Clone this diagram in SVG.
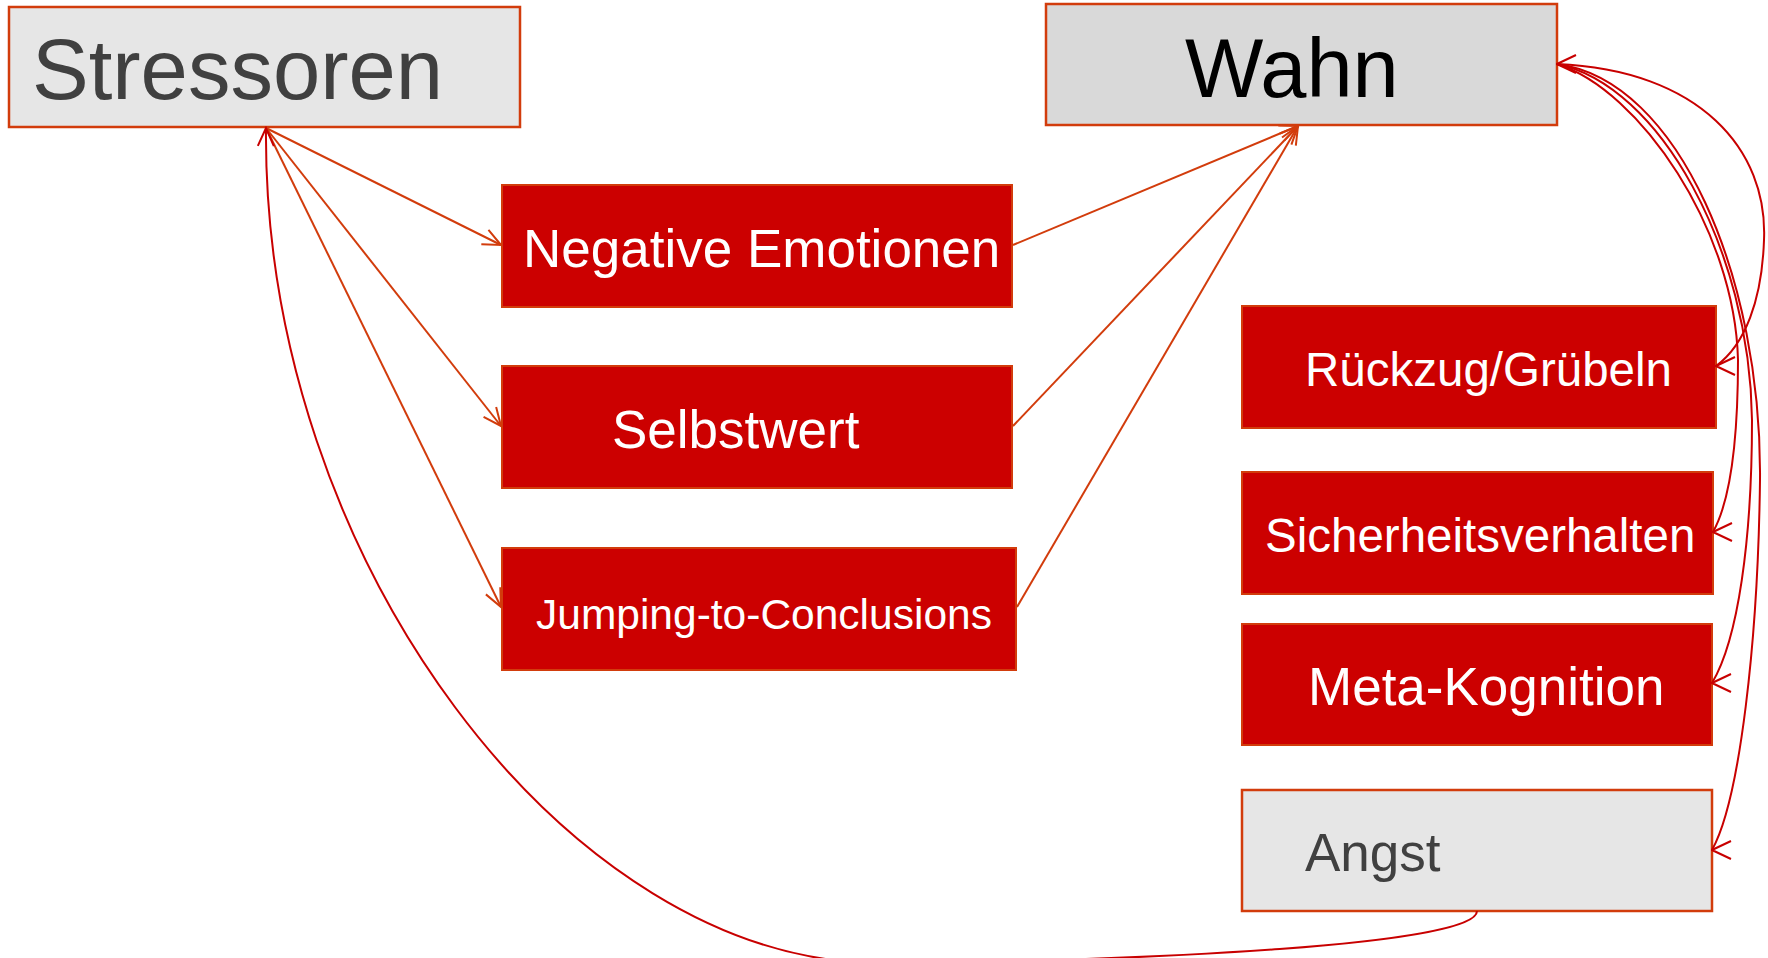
<svg xmlns="http://www.w3.org/2000/svg" width="1768" height="958" viewBox="0 0 1768 958">
<style>
text{font-family:"Liberation Sans",Arial,sans-serif}
.red rect{fill:#cc0000;stroke:#d23c0c;stroke-width:2}
.red text{fill:#ffffff}
.grey rect{stroke:#d23c0c;stroke-width:2.5}
.lo{fill:none;stroke:#d23c0c;stroke-width:2}
.lr{fill:none;stroke:#c80000;stroke-width:2}
</style>
<defs>
<marker id="ao" viewBox="0 0 22 22" refX="20" refY="11" markerWidth="22" markerHeight="22" orient="auto" markerUnits="userSpaceOnUse">
<path d="M2,3 L20,11 L2,19" fill="none" stroke="#d23c0c" stroke-width="2"/>
</marker>
<marker id="ar" viewBox="0 0 22 22" refX="20" refY="11" markerWidth="22" markerHeight="22" orient="auto" markerUnits="userSpaceOnUse">
<path d="M2,3 L20,11 L2,19" fill="none" stroke="#c80000" stroke-width="2"/>
</marker>
<marker id="arL" viewBox="0 0 22 22" refX="1" refY="11" markerWidth="22" markerHeight="22" orient="0" markerUnits="userSpaceOnUse">
<path d="M20,2 L1,11 L20,20" fill="none" stroke="#c80000" stroke-width="2"/>
</marker>
</defs>
<g id="stressoren" class="grey">
<rect x="9" y="7" width="511" height="120" fill="#e6e6e6"/>
<text x="32" y="99" font-size="85" fill="#404040">Stressoren</text>
</g>
<g id="wahn" class="grey">
<rect x="1046" y="4" width="511" height="121" fill="#d9d9d9"/>
<text x="1185" y="97" font-size="83" fill="#000000">Wahn</text>
</g>
<g id="negative-emotionen" class="red">
<rect x="502" y="185" width="510" height="122"/>
<text x="523" y="267" font-size="53">Negative Emotionen</text>
</g>
<g id="selbstwert" class="red">
<rect x="502" y="366" width="510" height="122"/>
<text x="612" y="448" font-size="53">Selbstwert</text>
</g>
<g id="jumping" class="red">
<rect x="502" y="548" width="514" height="122"/>
<text x="536" y="629" font-size="42.5">Jumping-to-Conclusions</text>
</g>
<g id="rueckzug" class="red">
<rect x="1242" y="306" width="474" height="122"/>
<text x="1305" y="386" font-size="47.5">Rückzug/Grübeln</text>
</g>
<g id="sicherheitsverhalten" class="red">
<rect x="1242" y="472" width="471" height="122"/>
<text x="1265" y="552" font-size="47.5">Sicherheitsverhalten</text>
</g>
<g id="meta-kognition" class="red">
<rect x="1242" y="624" width="470" height="121"/>
<text x="1308" y="705" font-size="53">Meta-Kognition</text>
</g>
<g id="angst" class="grey">
<rect x="1242" y="790" width="470" height="121" fill="#e6e6e6"/>
<text x="1305" y="871" font-size="53" fill="#404040">Angst</text>
</g>
<g id="connectors">
<path class="lo" d="M266,128 L501,245" marker-end="url(#ao)"/>
<path class="lo" d="M266,128 L501,426" marker-end="url(#ao)"/>
<path class="lo" d="M266,128 L501,607" marker-end="url(#ao)"/>
<path class="lo" d="M1013,245 L1298,126" marker-end="url(#ao)"/>
<path class="lo" d="M1013,426 L1298,126" marker-end="url(#ao)"/>
<path class="lo" d="M1017,607 L1298,126" marker-end="url(#ao)"/>
<path class="lr" d="M1477,911 C1477,945 1150,961 880,963 C570,963 262,560 266,128" marker-end="url(#ar)"/>
<path class="lr" d="M1557,64 C1700,70 1768,150 1764,240 C1762,300 1745,345 1716,366" marker-start="url(#arL)" marker-end="url(#arL)"/>
<path class="lr" d="M1557,64 C1640,90 1735,230 1738,360 C1738,450 1728,505 1713,532" marker-end="url(#arL)"/>
<path class="lr" d="M1557,64 C1660,85 1750,250 1752,420 C1752,540 1738,640 1712,683" marker-end="url(#arL)"/>
<path class="lr" d="M1557,64 C1680,80 1762,280 1760,480 C1758,640 1740,800 1712,850" marker-end="url(#arL)"/>
</g>
</svg>
